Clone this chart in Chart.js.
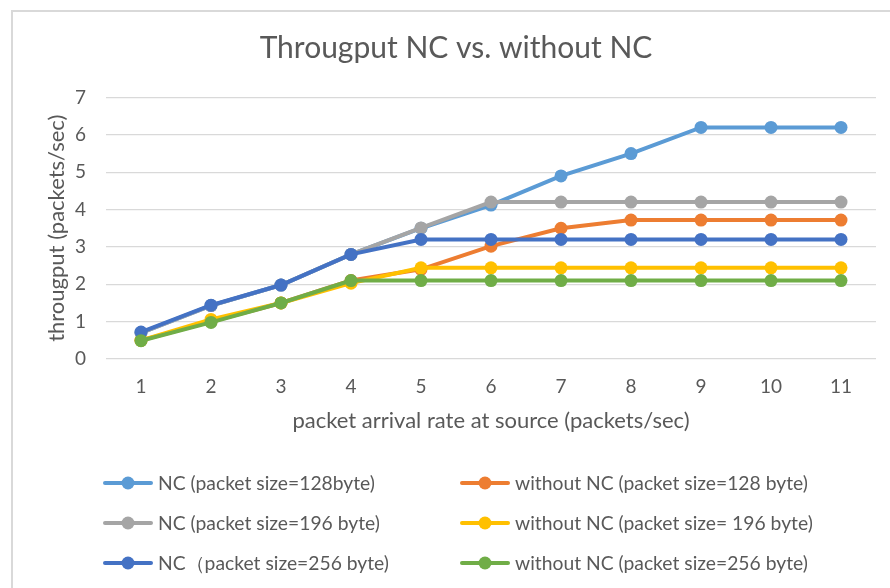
<!DOCTYPE html>
<html>
<head>
<meta charset="utf-8">
<script src="https://cdn.jsdelivr.net/npm/chart.js@4/dist/chart.umd.min.js"></script>
<style>
  html, body { margin: 0; padding: 0; background: #fff; }
  #wrap { width: 890px; height: 588px; position: relative; }
</style>
</head>
<body>
<div id="wrap"><canvas id="c" width="890" height="588"></canvas></div>
<script>
// Packet arrival rate at the source (packets/sec)
const rates = ['1', '2', '3', '4', '5', '6', '7', '8', '9', '10', '11'];

// Throughput (packets/sec) for each packet size, with and without network coding
const nc128   = [0.70, 1.43, 1.98, 2.80, 3.50, 4.12, 4.90, 5.50, 6.20, 6.20, 6.20];
const noNc128 = [0.50, 1.00, 1.50, 2.10, 2.40, 3.02, 3.50, 3.72, 3.72, 3.72, 3.72];
const nc196   = [0.70, 1.43, 1.98, 2.80, 3.51, 4.20, 4.20, 4.20, 4.20, 4.20, 4.20];
const noNc196 = [0.50, 1.06, 1.50, 2.03, 2.44, 2.44, 2.44, 2.44, 2.44, 2.44, 2.44];
const nc256   = [0.72, 1.44, 1.98, 2.80, 3.20, 3.20, 3.20, 3.20, 3.20, 3.20, 3.20];
const noNc256 = [0.49, 0.98, 1.50, 2.10, 2.10, 2.10, 2.10, 2.10, 2.10, 2.10, 2.10];

const seriesLabels = [
  'NC (packet size=128byte)',
  'without NC (packet size=128 byte)',
  'NC (packet size=196 byte)',
  'without NC (packet size= 196 byte)',
  'NC\uFF08packet size=256 byte)',
  'without NC (packet size=256 byte)'
];
const yMin = 0, yMax = 7, yStep = 1;

const chartTitle = 'Througput NC vs. without NC';
const palette = ['#5B9BD5', '#ED7D31', '#A5A5A5', '#FFC000', '#4472C4', '#70AD47'];
const seriesData = [nc128, noNc128, nc196, noNc196, nc256, noNc256];

const TEXT = '#595959';
const FONT = 'Lato, "Open Sans", "Liberation Sans", sans-serif';

// later series are painted on top of earlier ones
const datasets = seriesData.map((d, i) => ({
  label: seriesLabels[i],
  data: d,
  borderColor: palette[i],
  backgroundColor: palette[i],
  pointBackgroundColor: palette[i],
  pointBorderColor: palette[i],
  borderWidth: 4,
  pointRadius: 6.5,
  pointHoverRadius: 6.5,
  pointBorderWidth: 0,
  tension: 0,
  order: seriesData.length - i
}));

// Frame lines along the left and top, plus the chart heading
const framePlugin = {
  id: 'frame',
  beforeDraw(chart) {
    const ctx = chart.ctx;
    ctx.save();
    ctx.fillStyle = '#ffffff';
    ctx.fillRect(0, 0, chart.width, chart.height);
    ctx.strokeStyle = '#d9d9d9';
    ctx.lineWidth = 2;
    ctx.beginPath();
    ctx.moveTo(12, chart.height);
    ctx.lineTo(12, 11);
    ctx.lineTo(chart.width, 11);
    ctx.stroke();
    ctx.fillStyle = TEXT;
    ctx.font = '30px ' + FONT;
    ctx.textAlign = 'center';
    ctx.textBaseline = 'middle';
    ctx.fillText(chartTitle, 456, 48);
    ctx.restore();
  }
};

// Two-column legend below the x-axis title
const legendPlugin = {
  id: 'gridLegend',
  afterDraw(chart) {
    const ctx = chart.ctx;
    const colX = [105, 462];
    const rowY = [483, 523, 563];
    ctx.save();
    ctx.font = '19.3px ' + FONT;
    ctx.textBaseline = 'middle';
    ctx.textAlign = 'left';
    chart.data.datasets.forEach((ds, i) => {
      const x = colX[i % 2];
      const y = rowY[Math.floor(i / 2)];
      ctx.strokeStyle = ds.borderColor;
      ctx.lineWidth = 4;
      ctx.lineCap = 'round';
      ctx.beginPath();
      ctx.moveTo(x, y);
      ctx.lineTo(x + 46, y);
      ctx.stroke();
      ctx.fillStyle = ds.borderColor;
      ctx.beginPath();
      ctx.arc(x + 23, y, 6.5, 0, Math.PI * 2);
      ctx.fill();
      ctx.fillStyle = TEXT;
      ctx.fillText(ds.label, x + 53, y + 1);
    });
    ctx.restore();
  }
};

new Chart(document.getElementById('c'), {
  type: 'line',
  data: { labels: rates, datasets },
  options: {
    responsive: false,
    animation: false,
    devicePixelRatio: 1,
    layout: { padding: { left: 0, right: 14, top: 97.5, bottom: 153.8 } },
    plugins: {
      legend: { display: false },
      tooltip: { enabled: false },
      title: { display: false }
    },
    scales: {
      x: {
        type: 'category',
        offset: true,
        grid: { display: false, drawTicks: false },
        border: { display: false },
        ticks: { color: TEXT, font: { family: FONT, size: 19 }, padding: 16.6, maxRotation: 0 },
        title: {
          display: true,
          text: 'packet arrival rate at source (packets/sec)',
          color: TEXT,
          font: { family: FONT, size: 22 },
          padding: { top: 0, bottom: 0 }
        },
        afterFit(s) { s.height = 75.2; }
      },
      y: {
        min: yMin,
        max: yMax,
        grid: { color: '#d9d9d9', lineWidth: 1.3, drawTicks: false },
        border: { display: false },
        ticks: { stepSize: yStep, color: TEXT, font: { family: FONT, size: 19 }, padding: 20 },
        title: {
          display: true,
          text: 'througput (packets/sec)',
          color: TEXT,
          font: { family: FONT, size: 22 },
          padding: { top: 43.8, bottom: 0 }
        },
        afterFit(s) { s.width = 106; }
      }
    }
  },
  plugins: [framePlugin, legendPlugin]
});
</script>
</body>
</html>
